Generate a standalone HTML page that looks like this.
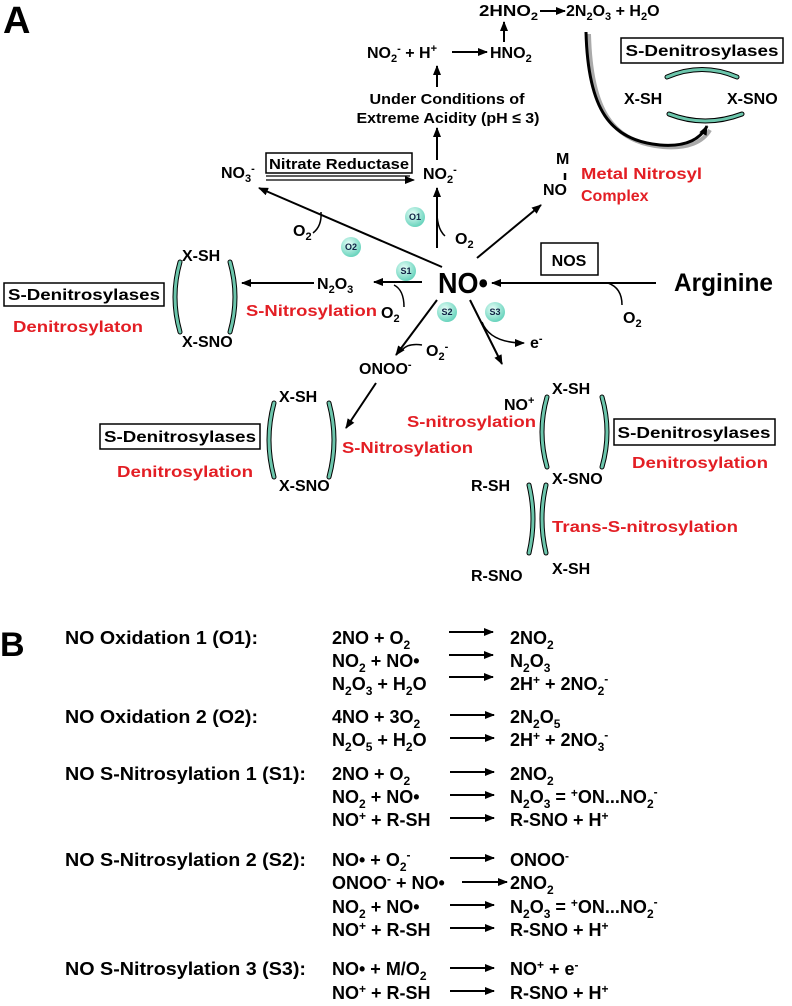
<!DOCTYPE html>
<html><head><meta charset="utf-8"><style>
html,body{margin:0;padding:0;background:#fff;}
svg{display:block;}
text{font-family:"Liberation Sans",Arial,sans-serif;font-weight:bold;fill:#000;}
.r{fill:#e31e24;}
.s{font-size:16px;}
.b{font-size:18px;}
</style></head><body>
<svg width="792" height="1006" viewBox="0 0 792 1006" xmlns="http://www.w3.org/2000/svg">
<defs>
<marker id="ah" markerWidth="10" markerHeight="8" refX="9" refY="4" orient="auto" markerUnits="userSpaceOnUse"><path d="M0,0 L10,4 L0,8 Z" fill="#000"/></marker>
<radialGradient id="cg" cx="40%" cy="35%" r="70%"><stop offset="0" stop-color="#e8fff9"/><stop offset="1" stop-color="#5fd0b8"/></radialGradient>
</defs>

<!-- A -->
<text x="3" y="33" style="font-size:38px">A</text>

<!-- top reactions -->
<text x="479" y="16" class="s" textLength="59" lengthAdjust="spacingAndGlyphs">2HNO<tspan dy="4" font-size="11">2</tspan></text>
<line x1="540" y1="11" x2="565" y2="11" stroke="#000" stroke-width="2" marker-end="url(#ah)"/>
<text x="566" y="16" class="s">2N<tspan dy="4" font-size="11">2</tspan><tspan dy="-4">O</tspan><tspan dy="4" font-size="11">3</tspan><tspan dy="-4"> + H</tspan><tspan dy="4" font-size="11">2</tspan><tspan dy="-4">O</tspan></text>
<line x1="504" y1="42" x2="504" y2="22" stroke="#000" stroke-width="2" marker-end="url(#ah)"/>

<text x="367" y="58" class="s">NO<tspan dy="4" font-size="11">2</tspan><tspan dy="-10" font-size="11">-</tspan><tspan dy="6"> + H</tspan><tspan dy="-6" font-size="11">+</tspan></text>
<line x1="452" y1="52" x2="487" y2="52" stroke="#000" stroke-width="2" marker-end="url(#ah)"/>
<text x="490" y="58" class="s">HNO<tspan dy="4" font-size="11">2</tspan></text>
<line x1="437" y1="87" x2="437" y2="66" stroke="#000" stroke-width="2" marker-end="url(#ah)"/>

<text x="447" y="104" text-anchor="middle" style="font-size:15px" textLength="155" lengthAdjust="spacingAndGlyphs">Under Conditions of</text>
<text x="448" y="123" text-anchor="middle" style="font-size:15px" textLength="183" lengthAdjust="spacingAndGlyphs">Extreme Acidity (pH ≤ 3)</text>
<line x1="437" y1="160" x2="437" y2="128" stroke="#000" stroke-width="2" marker-end="url(#ah)"/>

<!-- nitrate reductase -->
<text x="221" y="178" class="s">NO<tspan dy="4" font-size="11">3</tspan><tspan dy="-10" font-size="11">-</tspan></text>
<rect x="266" y="153" width="146" height="20" fill="none" stroke="#000" stroke-width="1.5"/>
<text x="339" y="169" text-anchor="middle" style="font-size:15px" textLength="140" lengthAdjust="spacingAndGlyphs">Nitrate Reductase</text>
<line x1="266" y1="176" x2="410" y2="176" stroke="#000" stroke-width="1.3"/>
<line x1="266" y1="180" x2="414" y2="180" stroke="#000" stroke-width="1.3" marker-end="url(#ah)"/>
<text x="423" y="179" class="s">NO<tspan dy="4" font-size="11">2</tspan><tspan dy="-10" font-size="11">-</tspan></text>
<line x1="437" y1="248" x2="437" y2="188" stroke="#000" stroke-width="2" marker-end="url(#ah)"/>

<!-- metal nitrosyl -->
<text x="556" y="164" class="s">M</text>
<line x1="565" y1="173" x2="565" y2="180" stroke="#000" stroke-width="2.5"/>
<text x="543" y="195" class="s">NO</text>
<text x="581" y="179" class="s r" textLength="121" lengthAdjust="spacingAndGlyphs">Metal Nitrosyl</text>
<text x="581" y="201" class="s r">Complex</text>
<line x1="477" y1="258" x2="541" y2="205" stroke="#000" stroke-width="2" marker-end="url(#ah)"/>

<!-- NO3 line -->
<line x1="442" y1="267" x2="259" y2="188" stroke="#000" stroke-width="2" marker-end="url(#ah)"/>
<path d="M321,212 Q322,226 313,233" fill="none" stroke="#000" stroke-width="1.5"/>
<text x="293" y="236" class="s">O<tspan dy="4" font-size="11">2</tspan></text>
<path d="M437,207 Q436,228 445,236" fill="none" stroke="#000" stroke-width="1.5"/>
<text x="455" y="244" class="s">O<tspan dy="4" font-size="11">2</tspan></text>

<!-- circles -->
<g font-size="9" text-anchor="middle">
<circle cx="415" cy="217" r="10" fill="url(#cg)"/><text x="415" y="220" style="font-size:9px;fill:#124">O1</text>
<circle cx="351" cy="247" r="10" fill="url(#cg)"/><text x="351" y="250" style="font-size:9px;fill:#124">O2</text>
<circle cx="406" cy="271" r="10" fill="url(#cg)"/><text x="406" y="274" style="font-size:9px;fill:#124">S1</text>
<circle cx="447" cy="312" r="10" fill="url(#cg)"/><text x="447" y="315" style="font-size:9px;fill:#124">S2</text>
<circle cx="495" cy="312" r="10" fill="url(#cg)"/><text x="495" y="315" style="font-size:9px;fill:#124">S3</text>
</g>

<!-- NO center -->
<text x="438" y="293" style="font-size:29px" textLength="50" lengthAdjust="spacingAndGlyphs">NO•</text>
<rect x="541" y="243" width="57" height="32" fill="none" stroke="#000" stroke-width="1.5"/>
<text x="569" y="266" text-anchor="middle" class="s">NOS</text>
<text x="674" y="291" style="font-size:25px" textLength="99" lengthAdjust="spacingAndGlyphs">Arginine</text>
<line x1="656" y1="283" x2="492" y2="283" stroke="#000" stroke-width="2" marker-end="url(#ah)"/>
<path d="M608,283 Q622,288 622,305" fill="none" stroke="#000" stroke-width="1.5"/>
<text x="623" y="323" class="s">O<tspan dy="4" font-size="11">2</tspan></text>

<!-- left branch -->
<line x1="422" y1="282" x2="374" y2="282" stroke="#000" stroke-width="2" marker-end="url(#ah)"/>
<path d="M404,307 Q404,290 394,285" fill="none" stroke="#000" stroke-width="1.5"/>
<text x="317" y="289" class="s">N<tspan dy="4" font-size="11">2</tspan><tspan dy="-4">O</tspan><tspan dy="4" font-size="11">3</tspan></text>
<line x1="314" y1="283" x2="242" y2="283" stroke="#000" stroke-width="2" marker-end="url(#ah)"/>
<text x="246" y="316" class="s r" textLength="131" lengthAdjust="spacingAndGlyphs">S-Nitrosylation</text>
<text x="381" y="318" class="s">O<tspan dy="4" font-size="11">2</tspan></text>

<text x="182" y="261" class="s">X-SH</text>
<text x="182" y="347" class="s">X-SNO</text>
<rect x="4" y="283" width="160" height="23" fill="none" stroke="#000" stroke-width="1.5"/>
<text x="84" y="300" text-anchor="middle" class="s" textLength="152" lengthAdjust="spacingAndGlyphs">S-Denitrosylases</text>
<text x="13" y="332" class="s r" textLength="130" lengthAdjust="spacingAndGlyphs">Denitrosylaton</text>

<!-- brackets -->
<g fill="none" stroke-linecap="round">
<g id="brk">
<path d="M180,262 Q170,297 180,332" stroke="#000" stroke-width="5"/>
<path d="M180,262 Q170,297 180,332" stroke="#6cc6ac" stroke-width="3"/>
<path d="M230,262 Q240,297 230,332" stroke="#000" stroke-width="5"/>
<path d="M230,262 Q240,297 230,332" stroke="#6cc6ac" stroke-width="3"/>
</g>
<!-- middle -->
<path d="M274,403 Q264,440 274,477" stroke="#000" stroke-width="5"/>
<path d="M274,403 Q264,440 274,477" stroke="#6cc6ac" stroke-width="3"/>
<path d="M329,403 Q339,440 329,477" stroke="#000" stroke-width="5"/>
<path d="M329,403 Q339,440 329,477" stroke="#6cc6ac" stroke-width="3"/>
<!-- right -->
<path d="M547,397 Q537,432 547,467" stroke="#000" stroke-width="5"/>
<path d="M547,397 Q537,432 547,467" stroke="#6cc6ac" stroke-width="3"/>
<path d="M602,397 Q612,432 602,467" stroke="#000" stroke-width="5"/>
<path d="M602,397 Q612,432 602,467" stroke="#6cc6ac" stroke-width="3"/>
<!-- trans -->
<path d="M529,485 Q537,519 529,553" stroke="#000" stroke-width="5"/>
<path d="M529,485 Q537,519 529,553" stroke="#6cc6ac" stroke-width="3"/>
<path d="M546,485 Q538,519 546,553" stroke="#000" stroke-width="5"/>
<path d="M546,485 Q538,519 546,553" stroke="#6cc6ac" stroke-width="3"/>
<!-- top right horizontal -->
<path d="M667,77 Q702,62 737,77" stroke="#000" stroke-width="5"/>
<path d="M667,77 Q702,62 737,77" stroke="#6cc6ac" stroke-width="3"/>
<path d="M669,114 Q705,128 742,114" stroke="#000" stroke-width="5"/>
<path d="M669,114 Q705,128 742,114" stroke="#6cc6ac" stroke-width="3"/>
</g>

<!-- S2 / S3 -->
<line x1="437" y1="300" x2="396" y2="355" stroke="#000" stroke-width="2" marker-end="url(#ah)"/>
<path d="M422,345 Q408,343 402,350" fill="none" stroke="#000" stroke-width="1.5"/>
<text x="426" y="356" class="s">O<tspan dy="4" font-size="11">2</tspan><tspan dy="-10" font-size="11">-</tspan></text>
<text x="359" y="374" class="s">ONOO<tspan dy="-6" font-size="11">-</tspan></text>
<line x1="376" y1="383" x2="346" y2="428" stroke="#000" stroke-width="2" marker-end="url(#ah)"/>
<line x1="470" y1="300" x2="502" y2="364" stroke="#000" stroke-width="2" marker-end="url(#ah)"/>
<path d="M482,322 Q490,343 524,343" fill="none" stroke="#000" stroke-width="1.5" marker-end="url(#ah)"/>
<text x="530" y="348" class="s">e<tspan dy="-6" font-size="11">-</tspan></text>

<!-- middle cycle -->
<text x="279" y="402" class="s">X-SH</text>
<text x="279" y="491" class="s">X-SNO</text>
<rect x="100" y="424" width="160" height="25" fill="none" stroke="#000" stroke-width="1.5"/>
<text x="180" y="442" text-anchor="middle" class="s" textLength="152" lengthAdjust="spacingAndGlyphs">S-Denitrosylases</text>
<text x="117" y="477" class="s r" textLength="136" lengthAdjust="spacingAndGlyphs">Denitrosylation</text>
<text x="342" y="453" class="s r" textLength="131" lengthAdjust="spacingAndGlyphs">S-Nitrosylation</text>

<!-- right cycle -->
<text x="552" y="394" class="s">X-SH</text>
<text x="504" y="410" class="s">NO<tspan dy="-6" font-size="11">+</tspan></text>
<text x="407" y="427" class="s r" textLength="129" lengthAdjust="spacingAndGlyphs">S-nitrosylation</text>
<rect x="614" y="419" width="161" height="26" fill="none" stroke="#000" stroke-width="1.5"/>
<text x="694" y="438" text-anchor="middle" class="s" textLength="153" lengthAdjust="spacingAndGlyphs">S-Denitrosylases</text>
<text x="632" y="468" class="s r" textLength="136" lengthAdjust="spacingAndGlyphs">Denitrosylation</text>
<text x="552" y="484" class="s">X-SNO</text>
<text x="471" y="491" class="s">R-SH</text>
<text x="552" y="532" class="s r" textLength="186" lengthAdjust="spacingAndGlyphs">Trans-S-nitrosylation</text>
<text x="471" y="581" class="s">R-SNO</text>
<text x="552" y="574" class="s">X-SH</text>

<!-- top right -->
<rect x="621" y="38" width="162" height="25" fill="none" stroke="#000" stroke-width="1.5"/>
<text x="702" y="56" text-anchor="middle" class="s" textLength="153" lengthAdjust="spacingAndGlyphs">S-Denitrosylases</text>
<text x="624" y="104" class="s">X-SH</text>
<text x="727" y="104" class="s">X-SNO</text>
<path d="M589,34 C591,112 613,142 663,147 C688,149 703,142 710,130" fill="none" stroke="#aaa" stroke-width="4"/>
<path d="M586,32 C588,110 610,140 660,145 C685,147 700,140 707,126" fill="none" stroke="#000" stroke-width="3" marker-end="url(#ah)"/>

<!-- B -->
<text x="0" y="656" style="font-size:34px">B</text>
<g class="b">
<text x="65" y="644" class="b" textLength="193" lengthAdjust="spacingAndGlyphs">NO Oxidation 1 (O1):</text>
<text x="65" y="723" class="b" textLength="193" lengthAdjust="spacingAndGlyphs">NO Oxidation 2 (O2):</text>
<text x="65" y="780" class="b" textLength="241" lengthAdjust="spacingAndGlyphs">NO S-Nitrosylation 1 (S1):</text>
<text x="65" y="866" class="b" textLength="241" lengthAdjust="spacingAndGlyphs">NO S-Nitrosylation 2 (S2):</text>
<text x="65" y="975" class="b" textLength="241" lengthAdjust="spacingAndGlyphs">NO S-Nitrosylation 3 (S3):</text>

<text x="332" y="644" class="b">2NO + O<tspan dy="5" font-size="12">2</tspan></text>
<text x="332" y="667" class="b">NO<tspan dy="5" font-size="12">2</tspan><tspan dy="-5"> + NO•</tspan></text>
<text x="332" y="690" class="b">N<tspan dy="5" font-size="12">2</tspan><tspan dy="-5">O</tspan><tspan dy="5" font-size="12">3</tspan><tspan dy="-5"> + H</tspan><tspan dy="5" font-size="12">2</tspan><tspan dy="-5">O</tspan></text>
<text x="332" y="723" class="b">4NO + 3O<tspan dy="5" font-size="12">2</tspan></text>
<text x="332" y="746" class="b">N<tspan dy="5" font-size="12">2</tspan><tspan dy="-5">O</tspan><tspan dy="5" font-size="12">5</tspan><tspan dy="-5"> + H</tspan><tspan dy="5" font-size="12">2</tspan><tspan dy="-5">O</tspan></text>
<text x="332" y="780" class="b">2NO + O<tspan dy="5" font-size="12">2</tspan></text>
<text x="332" y="803" class="b">NO<tspan dy="5" font-size="12">2</tspan><tspan dy="-5"> + NO•</tspan></text>
<text x="332" y="826" class="b">NO<tspan dy="-6" font-size="12">+</tspan><tspan dy="6"> + R-SH</tspan></text>
<text x="332" y="866" class="b">NO• + O<tspan dy="5" font-size="12">2</tspan><tspan dy="-12" font-size="12">-</tspan></text>
<text x="332" y="889" class="b">ONOO<tspan dy="-6" font-size="12">-</tspan><tspan dy="6"> + NO•</tspan></text>
<text x="332" y="913" class="b">NO<tspan dy="5" font-size="12">2</tspan><tspan dy="-5"> + NO•</tspan></text>
<text x="332" y="936" class="b">NO<tspan dy="-6" font-size="12">+</tspan><tspan dy="6"> + R-SH</tspan></text>
<text x="332" y="975" class="b">NO• + M/O<tspan dy="5" font-size="12">2</tspan></text>
<text x="332" y="999" class="b">NO<tspan dy="-6" font-size="12">+</tspan><tspan dy="6"> + R-SH</tspan></text>

<g stroke="#000" stroke-width="2" marker-end="url(#ah)">
<line x1="449" y1="632" x2="493" y2="632"/>
<line x1="449" y1="655" x2="493" y2="655"/>
<line x1="449" y1="677" x2="493" y2="677"/>
<line x1="450" y1="715" x2="494" y2="715"/>
<line x1="450" y1="738" x2="494" y2="738"/>
<line x1="450" y1="772" x2="494" y2="772"/>
<line x1="450" y1="795" x2="494" y2="795"/>
<line x1="450" y1="818" x2="494" y2="818"/>
<line x1="450" y1="858" x2="494" y2="858"/>
<line x1="462" y1="882" x2="507" y2="882"/>
<line x1="450" y1="905" x2="494" y2="905"/>
<line x1="450" y1="928" x2="494" y2="928"/>
<line x1="450" y1="968" x2="494" y2="968"/>
<line x1="450" y1="991" x2="494" y2="991"/>
</g>

<text x="510" y="644" class="b">2NO<tspan dy="5" font-size="12">2</tspan></text>
<text x="510" y="667" class="b">N<tspan dy="5" font-size="12">2</tspan><tspan dy="-5">O</tspan><tspan dy="5" font-size="12">3</tspan></text>
<text x="510" y="690" class="b">2H<tspan dy="-6" font-size="12">+</tspan><tspan dy="6"> + 2NO</tspan><tspan dy="5" font-size="12">2</tspan><tspan dy="-12" font-size="12">-</tspan></text>
<text x="510" y="723" class="b">2N<tspan dy="5" font-size="12">2</tspan><tspan dy="-5">O</tspan><tspan dy="5" font-size="12">5</tspan></text>
<text x="510" y="746" class="b">2H<tspan dy="-6" font-size="12">+</tspan><tspan dy="6"> + 2NO</tspan><tspan dy="5" font-size="12">3</tspan><tspan dy="-12" font-size="12">-</tspan></text>
<text x="510" y="780" class="b">2NO<tspan dy="5" font-size="12">2</tspan></text>
<text x="510" y="803" class="b">N<tspan dy="5" font-size="12">2</tspan><tspan dy="-5">O</tspan><tspan dy="5" font-size="12">3</tspan><tspan dy="-5"> = </tspan><tspan dy="-6" font-size="12">+</tspan><tspan dy="6">ON...NO</tspan><tspan dy="5" font-size="12">2</tspan><tspan dy="-12" font-size="12">-</tspan></text>
<text x="510" y="826" class="b">R-SNO + H<tspan dy="-6" font-size="12">+</tspan></text>
<text x="510" y="866" class="b">ONOO<tspan dy="-6" font-size="12">-</tspan></text>
<text x="510" y="889" class="b">2NO<tspan dy="5" font-size="12">2</tspan></text>
<text x="510" y="913" class="b">N<tspan dy="5" font-size="12">2</tspan><tspan dy="-5">O</tspan><tspan dy="5" font-size="12">3</tspan><tspan dy="-5"> = </tspan><tspan dy="-6" font-size="12">+</tspan><tspan dy="6">ON...NO</tspan><tspan dy="5" font-size="12">2</tspan><tspan dy="-12" font-size="12">-</tspan></text>
<text x="510" y="936" class="b">R-SNO + H<tspan dy="-6" font-size="12">+</tspan></text>
<text x="510" y="975" class="b">NO<tspan dy="-6" font-size="12">+</tspan><tspan dy="6"> + e</tspan><tspan dy="-6" font-size="12">-</tspan></text>
<text x="510" y="999" class="b">R-SNO + H<tspan dy="-6" font-size="12">+</tspan></text>
</g>
</svg>
</body></html>
